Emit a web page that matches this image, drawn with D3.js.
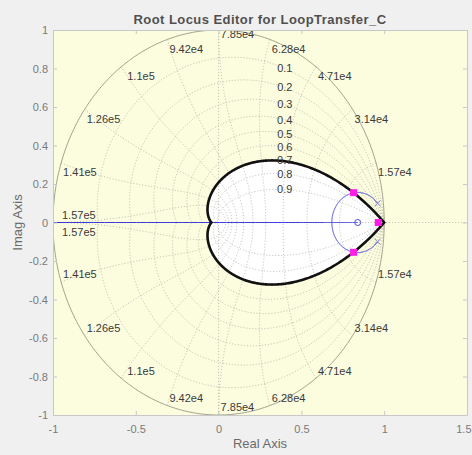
<!DOCTYPE html>
<html>
<head>
<meta charset="utf-8">
<script src="https://cdn.jsdelivr.net/npm/d3@7"></script>
<style>
  html, body { margin: 0; padding: 0; background: #f0f0f0; }
  svg { display: block; font-family: "Liberation Sans", Arial, Helvetica, sans-serif; }
</style>
</head>
<body>
<svg id="chart" width="472" height="455"></svg>
<script>
// Root locus of LoopTransfer_C on the z-plane, with a damping / natural-frequency grid.

const xTicks = [-1, -0.5, 0, 0.5, 1, 1.5];
const yTicks = [-1, -0.8, -0.6, -0.4, -0.2, 0, 0.2, 0.4, 0.6, 0.8, 1];

// damping ratio grid lines and their labels
const dampingValues = [0.1, 0.2, 0.3, 0.4, 0.5, 0.6, 0.7, 0.8, 0.9];
const dampingLabels = ["0.1", "0.2", "0.3", "0.4", "0.5", "0.6", "0.7", "0.8", "0.9"];

// natural frequency grid lines: wn*T = k*pi/10, labelled in rad/s
const freqMultiples = [1, 2, 3, 4, 5, 6, 7, 8, 9, 10];
const freqLabels = ["1.57e4", "3.14e4", "4.71e4", "6.28e4", "7.85e4",
                    "9.42e4", "1.1e5", "1.26e5", "1.41e5", "1.57e5"];

// open-loop poles and zeros
const olPoleRe = [0.96, 0.96];
const olPoleIm = [0.10, -0.10];
const olZeroRe = [0.84];
const olZeroIm = [0];

// closed-loop poles at the current gain
const clPoleRe = [0.815, 0.815, 0.964];
const clPoleIm = [0.155, -0.155, 0];

// damping ratio design requirement (region boundary)
const dampingRequirement = 0.707;

const svg = d3.select("#chart");
const box = { left: 53, right: 467, top: 30, bottom: 415 };

const x = d3.scaleLinear().domain([-1, 1.5]).range([box.left, box.right]);
const y = d3.scaleLinear().domain([-1, 1]).range([box.bottom, box.top]);
const line = d3.line().x(d => x(d[0])).y(d => y(d[1]));

svg.append("defs").append("clipPath").attr("id", "plotClip")
  .append("rect")
  .attr("x", box.left).attr("y", box.top)
  .attr("width", box.right - box.left).attr("height", box.bottom - box.top);

// shaded (non-allowed) background
svg.append("rect")
  .attr("x", box.left).attr("y", box.top)
  .attr("width", box.right - box.left).attr("height", box.bottom - box.top)
  .attr("fill", "#fcfcdf");

const plot = svg.append("g").attr("clip-path", "url(#plotClip)");

// z = exp(sT) for s = -zeta*w + j*w*sqrt(1-zeta^2), with T normalised to 1
function zPoint(zeta, w, sign) {
  const r = Math.exp(-zeta * w);
  const th = w * Math.sqrt(Math.max(0, 1 - zeta * zeta));
  return [r * Math.cos(th), sign * r * Math.sin(th)];
}
function dampingCurve(zeta, sign, n = 300) {
  const wMax = Math.PI / Math.sqrt(1 - zeta * zeta);
  return d3.range(n + 1).map(i => zPoint(zeta, wMax * i / n, sign));
}
function freqCurve(wT, sign, n = 150) {
  return d3.range(n + 1).map(i => zPoint(i / n, wT, sign));
}

// allowed region: inside the constant-damping boundary
const boundaryUpper = dampingCurve(dampingRequirement, 1);
const boundaryLower = dampingCurve(dampingRequirement, -1);
const boundary = boundaryUpper.concat(boundaryLower.slice().reverse());
plot.append("path")
  .attr("d", line(boundary) + "Z")
  .attr("fill", "#ffffff")
  .attr("stroke", "none");

// grid
const grid = plot.append("g")
  .attr("fill", "none")
  .attr("stroke", "#b9b9b0")
  .attr("stroke-width", 0.8)
  .attr("stroke-dasharray", "1.2 1.8");

dampingValues.forEach(z => {
  [1, -1].forEach(sg => grid.append("path").attr("d", line(dampingCurve(z, sg))));
});
freqMultiples.forEach(k => {
  [1, -1].forEach(sg => grid.append("path").attr("d", line(freqCurve(k * Math.PI / 10, sg))));
});
grid.append("path").attr("d", line([[0, -1], [0, 1]]));
grid.append("path").attr("d", line([[-1, 0], [1.5, 0]]));

// unit circle
plot.append("path")
  .attr("d", line(d3.range(0, 361).map(a => [Math.cos(a * Math.PI / 180), Math.sin(a * Math.PI / 180)])))
  .attr("fill", "none")
  .attr("stroke", "#a3a290")
  .attr("stroke-width", 1);

// grid labels
const labelG = svg.append("g")
  .attr("font-size", 11)
  .attr("fill", "#3a3a3a");

freqMultiples.forEach((k, i) => {
  const th = k * Math.PI / 10;
  const px = x(Math.cos(th)), pyTop = y(Math.sin(th)), pyBot = y(-Math.sin(th));
  let dx = 2, dyTop = 9.5, dyBot = -7.5;
  if (k === 7) dx = 6;
  if (k === 5) { dyTop = 4; }
  if (k === 10) { dx = 9; dyTop = -7.5; dyBot = 9.5; }
  labelG.append("text").attr("x", px + dx).attr("y", pyTop + dyTop)
    .attr("dy", "0.35em").text(freqLabels[i]);
  labelG.append("text").attr("x", px + dx).attr("y", pyBot + dyBot)
    .attr("dy", "0.35em").text(freqLabels[i]);
});

dampingValues.forEach((z, i) => {
  // place each label where its damping curve crosses Re(z) = 0.4
  const wMax = Math.PI / Math.sqrt(1 - z * z);
  let p = zPoint(z, 0, 1);
  for (let j = 1; j <= 2000; j++) {
    const q = zPoint(z, wMax * j / 2000, 1);
    if (q[0] <= 0.4) { p = q; break; }
  }
  labelG.append("text")
    .attr("x", x(p[0])).attr("y", y(p[1]))
    .attr("dy", "0.35em").attr("text-anchor", "middle")
    .text(dampingLabels[i]);
});

// root locus branches: den(z) + K*num(z) = 0
const a = olPoleRe[0], b = olPoleIm[0], z0 = olZeroRe[0];
const c0 = a * a + b * b;
function rootsAt(K) {
  const B = K - 2 * a, C = c0 - K * z0;
  const D = B * B - 4 * C;
  if (D < 0) return [[-B / 2, Math.sqrt(-D) / 2], [-B / 2, -Math.sqrt(-D) / 2]];
  const s = Math.sqrt(D);
  return [[(-B + s) / 2, 0], [(-B - s) / 2, 0]];
}
const Kb = 2 * (a - z0) + 2 * Math.sqrt((a - z0) * (a - z0) + b * b);
const gainsComplex = d3.range(0, 301).map(i => { const u = 1 - i / 300; return Kb * (1 - u * u); });
const branchUp = gainsComplex.map(K => rootsAt(K)[0]);
const branchDn = gainsComplex.map(K => rootsAt(K)[1]);
const gainsReal = d3.range(0, 301).map(i => Kb + Math.pow(i / 300, 3) * 200);
const branchToZero = gainsReal.map(K => rootsAt(K)[0]);
const branchToInf = gainsReal.map(K => rootsAt(K)[1]);

const locus = plot.append("g")
  .attr("fill", "none")
  .attr("stroke", "#3c3cdc")
  .attr("stroke-width", 1);
[branchUp, branchDn, branchToZero, branchToInf].forEach(br => {
  locus.append("path").attr("d", line(br));
});

// damping requirement boundary
plot.append("path")
  .attr("d", line(boundary) + "Z")
  .attr("fill", "none")
  .attr("stroke", "#111111")
  .attr("stroke-width", 2.6)
  .attr("stroke-linejoin", "miter");

// open-loop zeros
plot.selectAll(".olz").data(olZeroRe).enter().append("circle")
  .attr("cx", (d) => x(d)).attr("cy", (d, i) => y(olZeroIm[i]))
  .attr("r", 3).attr("fill", "none").attr("stroke", "#4a4adc").attr("stroke-width", 1);

// open-loop poles
olPoleRe.forEach((re, i) => {
  const cx = x(re), cy = y(olPoleIm[i]), s = 3;
  plot.append("path")
    .attr("d", `M${cx - s},${cy - s}L${cx + s},${cy + s}M${cx - s},${cy + s}L${cx + s},${cy - s}`)
    .attr("stroke", "#8484c4").attr("stroke-width", 1);
});

// closed-loop poles
clPoleRe.forEach((re, i) => {
  plot.append("rect")
    .attr("x", x(re) - 3.5).attr("y", y(clPoleIm[i]) - 3.5)
    .attr("width", 7).attr("height", 7)
    .attr("fill", "#ff1ee6");
});

// axes
function styleAxis(g) {
  g.select(".domain").attr("stroke", "#c8c8c8");
  g.selectAll(".tick line").attr("stroke", "#c8c8c8");
  g.selectAll(".tick text").attr("fill", "#7a7a7a")
    .attr("font-size", 11).attr("font-family", "Liberation Sans, Arial, sans-serif");
}
const fmt = d => String(d);
const xAxisG = svg.append("g").attr("transform", `translate(0,${box.bottom})`)
  .call(d3.axisBottom(x).tickValues(xTicks).tickFormat(fmt).tickSizeInner(-4).tickSizeOuter(0).tickPadding(10))
  .call(styleAxis);
// keep the last tick label inside the figure edge
xAxisG.selectAll(".tick text").filter(d => d === xTicks[xTicks.length - 1])
  .attr("text-anchor", "end").attr("x", 471 - box.right);
svg.append("g").attr("transform", `translate(${box.left},0)`)
  .call(d3.axisLeft(y).tickValues(yTicks).tickFormat(fmt).tickSizeInner(-4).tickSizeOuter(0).tickPadding(5))
  .call(styleAxis);
svg.append("g").attr("transform", `translate(0,${box.top})`)
  .call(d3.axisTop(x).tickValues(xTicks).tickFormat("").tickSizeInner(-4).tickSizeOuter(0))
  .call(styleAxis);
svg.append("g").attr("transform", `translate(${box.right},0)`)
  .call(d3.axisRight(y).tickValues(yTicks).tickFormat("").tickSizeInner(-4).tickSizeOuter(0))
  .call(styleAxis);

// title and axis labels
svg.append("text")
  .attr("x", (box.left + box.right) / 2).attr("y", 23.5)
  .attr("text-anchor", "middle")
  .attr("font-size", 13).attr("letter-spacing", 0.45)
  .attr("font-weight", "bold").attr("fill", "#505050")
  .text("Root Locus Editor for LoopTransfer_C");
svg.append("text")
  .attr("x", (box.left + box.right) / 2).attr("y", 448)
  .attr("text-anchor", "middle")
  .attr("font-size", 13).attr("fill", "#6a6a6a")
  .text("Real Axis");
svg.append("text")
  .attr("transform", `translate(22,${y(0)}) rotate(-90)`)
  .attr("text-anchor", "middle")
  .attr("font-size", 13).attr("fill", "#6a6a6a")
  .text("Imag Axis");
</script>
</body>
</html>
